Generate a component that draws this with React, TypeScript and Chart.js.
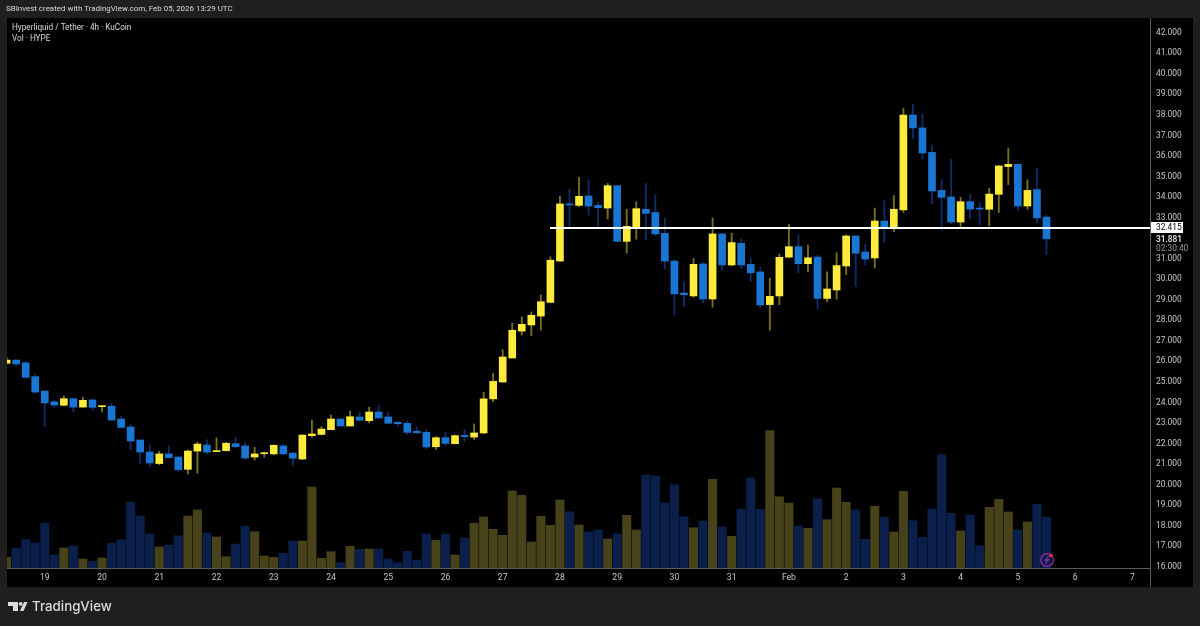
import React, { useEffect, useRef } from "react";
import { Chart, registerables } from "chart.js";

Chart.register(...registerables);

const opens = [25.82,25.98,25.84,25.17,24.47,23.94,23.78,24.10,23.69,24.04,23.71,23.73,23.11,22.72,22.09,21.50,20.94,21.41,21.26,20.66,21.55,21.84,21.52,21.57,21.91,21.80,21.26,21.42,21.41,21.80,21.45,21.16,22.30,22.36,22.59,23.11,22.77,23.21,23.03,23.45,23.21,22.95,22.90,22.51,22.46,21.76,22.20,21.91,22.31,22.23,22.43,24.09,24.91,26.08,27.39,27.69,28.12,28.79,30.80,33.58,33.51,33.97,33.51,33.38,34.47,31.76,32.44,33.32,33.16,32.15,30.80,29.24,29.10,30.66,28.95,32.12,30.61,31.66,30.64,30.27,28.68,29.10,30.99,31.50,30.67,30.99,28.98,29.39,30.56,32.02,31.24,30.95,32.75,32.46,33.29,37.91,37.28,36.09,34.24,33.92,32.70,33.69,33.38,33.32,34.05,35.40,35.51,33.48,34.28,32.94];
const highs = [26.11,26.00,25.90,25.27,24.47,24.04,24.23,24.10,24.17,24.04,23.76,23.87,23.26,22.87,22.09,21.84,21.54,21.80,21.26,21.60,21.99,22.09,22.19,21.96,22.22,21.96,21.73,21.50,21.85,21.86,21.47,22.34,23.06,22.74,23.30,23.12,23.50,23.45,23.68,23.79,23.43,22.98,23.00,22.72,22.61,22.25,22.48,22.33,22.61,22.87,24.41,25.33,26.49,27.78,28.09,28.32,29.15,31.01,33.95,34.31,34.88,34.75,33.66,34.58,34.48,33.32,33.69,34.58,34.02,32.88,30.85,29.78,30.93,30.72,32.90,32.13,32.15,31.87,30.93,30.49,29.97,31.14,32.59,32.07,31.58,31.10,30.27,31.21,32.07,32.03,31.63,33.38,33.74,33.99,38.24,38.45,37.96,36.45,34.78,35.75,33.90,34.06,33.64,34.34,35.46,36.30,35.53,34.75,35.31,33.04];
const lows = [25.82,25.69,25.11,24.36,22.77,23.68,23.74,23.45,23.69,23.55,23.45,23.06,22.70,21.60,20.95,20.79,20.89,21.20,20.53,20.43,20.47,21.41,21.52,21.55,21.73,21.15,21.11,21.26,21.37,21.37,20.86,21.16,22.22,22.33,22.59,22.77,22.77,23.01,22.92,23.16,22.90,22.74,22.35,22.41,21.66,21.63,21.83,21.90,22.02,22.12,22.39,23.95,24.91,26.08,27.20,27.17,27.44,28.76,30.77,32.44,33.45,33.04,32.44,32.85,31.74,31.19,31.87,31.82,32.02,30.43,28.17,28.58,29.05,28.77,28.55,30.36,30.56,30.43,29.81,28.51,27.44,28.68,30.98,30.23,30.27,28.47,28.81,28.95,30.14,29.55,30.61,30.46,31.68,32.23,33.16,36.76,35.77,33.58,32.31,32.60,32.44,32.85,32.56,32.51,33.16,34.52,33.24,33.32,32.65,31.13];
const closes = [25.98,25.79,25.14,24.42,23.89,23.79,24.10,23.69,24.02,23.68,23.74,23.06,22.70,22.04,21.50,20.97,21.41,21.23,20.64,21.55,21.89,21.50,21.57,21.93,21.76,21.21,21.41,21.45,21.83,21.41,21.20,22.33,22.38,22.62,23.11,22.77,23.22,23.05,23.45,23.16,22.90,22.88,22.46,22.44,21.75,22.20,21.92,22.30,22.25,22.43,24.09,24.94,26.13,27.43,27.72,28.16,28.82,30.84,33.58,33.53,33.95,33.48,33.40,34.47,31.76,32.49,33.35,33.12,32.12,30.80,29.20,29.16,30.64,28.95,32.12,30.61,31.70,30.61,30.23,28.66,29.08,30.98,31.50,30.67,30.96,28.98,29.44,30.58,32.02,31.18,30.90,32.75,32.46,33.32,37.91,37.28,36.06,34.21,33.90,32.70,33.69,33.33,33.33,34.06,35.43,35.51,33.48,34.24,32.90,31.881];
const volumes = [10.7,19.7,28.3,25,44.7,13,20,22,9,6.7,10,24.7,28.3,65.7,52,34,21,22.7,32.3,52,58,35,31,11.3,24,41.7,36.3,12,10.7,14.7,26.7,27,81,9.7,16.3,5.3,21.7,18.7,19,19,9,5.3,16.7,8,34,27.7,34,13,30,44.7,51,38.7,32.7,77,72.7,26,51.7,42.7,68,56.3,43,36,38,29,34,52.7,38,93,92,65,83.3,51.3,40.3,47,88.7,41,31.7,58.7,90,58.7,137.3,71.3,65,42,39.7,69,48.3,80,65.7,58,28.7,61.8,50.7,36,76.7,47.3,30.7,58.7,113.3,54.7,37,52.7,22.3,60.7,68.7,56,38,46,63.7,51];

const dayTickIndexes = [4,10,16,22,28,34,40,46,52,58,64,70,76,82,88,94,100,106,112,118];
const dayTickLabels = ["19","20","21","22","23","24","25","26","27","28","29","30","31","Feb","2","3","4","5","6","7"];
const priceTicks = [42,41,40,39,38,37,36,35,34,33,31,30,29,28,27,26,25,24,23,22,21,20,19,18,17,16];
const levelPrice = 32.415;
const levelStartIndex = 56.96;
const lastPriceLabel = "31.881";
const countdownLabel = "02:30:40";

const UP = "#ffeb3b";
const DOWN = "#1976d2";
const UP_WICK = "#77701f";
const DOWN_WICK = "#0f2c66";
const UP_VOL = "#47421a";
const DOWN_VOL = "#0b1f4b";

const FONT = "Roboto, sans-serif";

const chrome = {
  id: "chrome",
  beforeDraw(chart: any) {
    const { ctx } = chart;
    ctx.save();
    ctx.fillStyle = "#1f1f1f";
    ctx.fillRect(0, 0, 1200, 626);
    ctx.fillStyle = "#000000";
    ctx.fillRect(7, 18, 1186, 569);
    ctx.restore();
  },
  afterDraw(chart: any) {
    const { ctx } = chart;
    ctx.save();
    ctx.strokeStyle = "#5a5a5a";
    ctx.lineWidth = 1;
    ctx.beginPath();
    ctx.moveTo(7, 568.5);
    ctx.lineTo(1150, 568.5);
    ctx.moveTo(1150.5, 18);
    ctx.lineTo(1150.5, 587);
    ctx.stroke();

    ctx.textBaseline = "middle";
    ctx.textAlign = "left";
    ctx.fillStyle = "#d8d8d8";
    ctx.font = `7.95px ${FONT}`;
    ctx.fillText("SBInvest created with TradingView.com, Feb 05, 2026 13:29 UTC", 6, 9.5);
    ctx.font = `8.2px ${FONT}`;
    ctx.fillText("Hyperliquid / Tether · 4h · KuCoin", 12, 27.5);
    ctx.fillText("Vol · HYPE", 12, 38.5);

    // price labels
    ctx.fillStyle = "#ffffff";
    ctx.fillRect(1151, 222, 32, 11);
    ctx.fillStyle = "#000000";
    ctx.font = `8.4px ${FONT}`;
    ctx.fillText(levelPrice.toFixed(3), 1156, 228);
    ctx.fillStyle = "#f0f0f0";
    ctx.font = `500 8.4px ${FONT}`;
    ctx.fillText(lastPriceLabel, 1156, 240);
    ctx.fillStyle = "#9a9a9a";
    ctx.font = `8.4px ${FONT}`;
    ctx.fillText(countdownLabel, 1156, 248.5);

    // alert icon
    ctx.strokeStyle = "#9c27b0";
    ctx.lineWidth = 1.3;
    ctx.beginPath();
    ctx.arc(1047, 560, 6.3, 0, Math.PI * 2);
    ctx.stroke();
    ctx.strokeStyle = "#a93ac0";
    ctx.lineWidth = 1;
    ctx.beginPath();
    ctx.moveTo(1048.5, 556.5);
    ctx.lineTo(1045, 560.5);
    ctx.lineTo(1049, 559.5);
    ctx.lineTo(1045.5, 563.5);
    ctx.stroke();
    ctx.fillStyle = "#f23645";
    ctx.beginPath();
    ctx.arc(1051, 555.5, 1.7, 0, Math.PI * 2);
    ctx.fill();

    // logo
    ctx.fillStyle = "#dcdcdc";
    ctx.beginPath();
    ctx.rect(8, 602, 10, 4);
    ctx.rect(13, 602, 5, 9);
    ctx.fill();
    ctx.beginPath();
    ctx.arc(20.7, 603.9, 1.9, 0, Math.PI * 2);
    ctx.fill();
    ctx.beginPath();
    ctx.moveTo(20, 611);
    ctx.lineTo(24, 602);
    ctx.lineTo(27.5, 602);
    ctx.lineTo(23.5, 611);
    ctx.closePath();
    ctx.fill();
    ctx.font = `500 13.3px Inter, ${FONT}`;
    ctx.fillText("TradingView", 32, 606.8);
    ctx.restore();
  },
};

export default function App() {
  const ref = useRef<HTMLCanvasElement>(null);
  useEffect(() => {
    if (!ref.current) return;
    const isUp = closes.map((c, i) => c >= opens[i]);
    const xMin = 0.04;
    const xMax = 119.85;
    const yMin = 15.856;
    const yMax = 42.633;
    const labelShift = 0.083;
    const chart = new Chart(ref.current, {
      type: "bar",
      data: {
        datasets: [
          {
            label: "Vol",
            yAxisID: "yVol",
            order: 4,
            data: volumes.map((v, i) => ({ x: i, y: v })),
            backgroundColor: volumes.map((_, i) => (isUp[i] ? UP_VOL : DOWN_VOL)),
            barThickness: 8.4,
            grouped: false,
          },
          {
            label: "Wick",
            yAxisID: "y",
            order: 3,
            data: highs.map((h, i) => ({ x: i, y: [lows[i], h] })),
            backgroundColor: highs.map((_, i) => (isUp[i] ? UP_WICK : DOWN_WICK)),
            barThickness: 1.2,
            grouped: false,
          },
          {
            label: "HYPE",
            yAxisID: "y",
            order: 2,
            data: opens.map((o, i) => ({ x: i, y: [o, closes[i]] })),
            backgroundColor: opens.map((_, i) => (isUp[i] ? UP : DOWN)),
            barThickness: 7,
            minBarLength: 1,
            grouped: false,
          },
          {
            type: "line",
            label: "Level",
            yAxisID: "y",
            order: 1,
            data: [
              { x: levelStartIndex, y: levelPrice },
              { x: xMax, y: levelPrice },
            ],
            borderColor: "#ffffff",
            borderWidth: 2,
            pointRadius: 0,
          },
        ] as any,
      },
      options: {
        animation: false,
        responsive: false,
        devicePixelRatio: 1,
        layout: { padding: { left: 7, top: 18, right: 7, bottom: 39 } },
        plugins: { legend: { display: false }, tooltip: { enabled: false } },
        scales: {
          x: {
            type: "linear",
            min: xMin,
            max: xMax,
            offset: false,
            grid: { display: false, drawTicks: false },
            border: { display: false },
            afterBuildTicks: (s: any) => {
              s.ticks = dayTickIndexes.map((v) => ({ value: v }));
            },
            afterFit: (s: any) => {
              s.height = 19;
            },
            ticks: {
              autoSkip: false,
              maxRotation: 0,
              padding: 5,
              color: "#c8c8c8",
              font: { family: FONT, size: 8.6 },
              callback: (v: any) => dayTickLabels[dayTickIndexes.indexOf(Number(v))] ?? "",
            },
          },
          y: {
            type: "linear",
            display: false,
            min: yMin,
            max: yMax,
          },
          yTicks: {
            type: "linear",
            position: "right",
            min: yMin + labelShift,
            max: yMax + labelShift,
            grid: { display: false, drawTicks: false },
            border: { display: false },
            afterBuildTicks: (s: any) => {
              s.ticks = priceTicks.map((v) => ({ value: v }));
            },
            afterFit: (s: any) => {
              s.width = 43;
            },
            ticks: {
              autoSkip: false,
              padding: 6,
              color: "#c8c8c8",
              font: { family: FONT, size: 8.4 },
              callback: (v: any) => Number(v).toFixed(3),
            },
          },
          yVol: {
            type: "linear",
            display: false,
            min: 0,
            max: 550,
          },
        },
      } as any,
      plugins: [chrome],
    });
    return () => chart.destroy();
  }, []);
  return (
    <canvas
      ref={ref}
      width={1200}
      height={626}
      style={{ position: "fixed", left: 0, top: 0, display: "block" }}
    />
  );
}
